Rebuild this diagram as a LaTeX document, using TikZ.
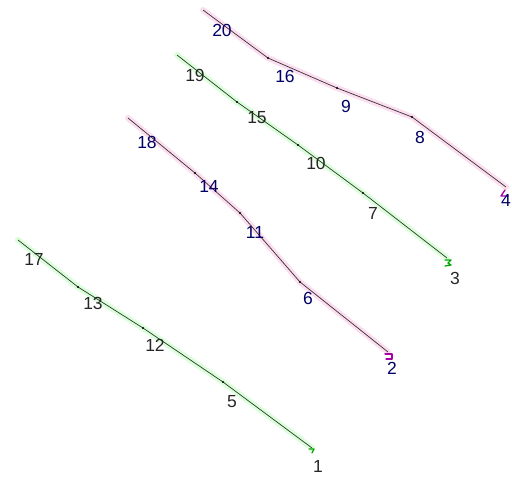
\documentclass[tikz,border=0pt]{standalone}
\usepackage{fontspec}
\setmainfont{Liberation Sans}
\begin{document}
\begin{tikzpicture}[x=1pt,y=-1pt,
  halog/.style={line width=6pt,draw=green!50!white,opacity=0.3,line cap=round,line join=round},
  halom/.style={line width=6pt,draw=magenta!55!white,opacity=0.25,line cap=round,line join=round},
  core/.style={line width=0.7pt,draw=black!80,line join=round},
  dot/.style={circle,fill=black,inner sep=0pt,minimum size=2.2pt},
  lbk/.style={font=\fontsize{17.5}{18}\selectfont,text=black!85,inner sep=0pt},
  lbb/.style={font=\fontsize{17.5}{18}\selectfont,text=blue!40!black,inner sep=0pt},
  endg/.style={draw=green!65!black,line width=1.3pt,line cap=round,line join=round},
  endm/.style={draw=violet!70!magenta,line width=1.3pt,line cap=round,line join=round}]
\useasboundingbox (0,0) rectangle (512,477);
% line A (green)
\coordinate (p17) at (18,240);
\coordinate (p13) at (78,287);
\coordinate (p12) at (143,328);
\coordinate (p5) at (223,382);
\coordinate (p1) at (312,448);
% line B (magenta)
\coordinate (p18) at (128,118);
\coordinate (p14) at (195,173);
\coordinate (p11) at (240,213);
\coordinate (p6) at (300,282);
\coordinate (p2) at (388,352);
% line C (green)
\coordinate (p19) at (177,55);
\coordinate (p15) at (237,102);
\coordinate (p10) at (298,145);
\coordinate (p7) at (363,193);
\coordinate (p3) at (447,258);
% line D (magenta)
\coordinate (p20) at (203,10);
\coordinate (p16) at (268,58);
\coordinate (p9) at (337,88);
\coordinate (p8) at (412,117);
\coordinate (p4) at (506,187);
% halos
\draw[halog] (p17) -- (p13) -- (p12) -- (p5) -- (p1);
\draw[halom] (p18) -- (p14) -- (p11) -- (p6) -- (p2);
\draw[halog] (p19) -- (p15) -- (p10) -- (p7) -- (p3);
\draw[halom] (p20) -- (p16) -- (p9) -- (p8) -- (p4);
% cores
\draw[core] (p17) -- (p13) -- (p12) -- (p5) -- (p1);
\draw[core] (p18) -- (p14) -- (p11) -- (p6) -- (p2);
\draw[core] (p19) -- (p15) -- (p10) -- (p7) -- (p3);
\draw[core] (p20) -- (p16) -- (p9) -- (p8) -- (p4);
% dots
\foreach \p in {p13,p12,p5,p14,p11,p6,p15,p10,p7,p16,p9,p8}
  \node[dot] at (\p) {};
% end marks
\draw[endg] ([xshift=-3pt,yshift=-1pt]p1) -- ++(5,0) -- ++(-2,4);
\draw[endm] ([xshift=-3pt,yshift=-2pt]p2) -- ++(7,0) -- ++(0,5) -- ++(-6,0);
\draw[endg] ([xshift=-2pt,yshift=-2pt]p3) -- ++(6,0) -- ++(-3,3) -- ++(3,2) -- ++(-6,1);
\draw[endm] ([xshift=-1pt,yshift=-3pt]p4) -- ++(-4,6) -- ++(7,0);
% labels
\node[lbk] (l17) at (34,259) {17};
\node[lbk] (l13) at (93,303) {13};
\node[lbk] (l12) at (155,345) {12};
\node[lbk] (l5) at (232,402) {5};
\node[lbk] (l1) at (318,466) {1};
\node[lbb] (l18) at (147,142) {18};
\node[lbb] (l14) at (209,186) {14};
\node[lbb] (l11) at (255,232) {11};
\node[lbb] (l6) at (308,298) {6};
\node[lbb] (l2) at (392,368) {2};
\node[lbk] (l19) at (195,75) {19};
\node[lbk] (l15) at (257,118) {15};
\node[lbk] (l10) at (316,163) {10};
\node[lbk] (l7) at (373,213) {7};
\node[lbk] (l3) at (455,278) {3};
\node[lbb] (l20) at (222,30) {20};
\node[lbb] (l16) at (285,76) {16};
\node[lbb] (l9) at (346,106) {9};
\node[lbb] (l8) at (420,137) {8};
\node[lbb] (l4) at (506,200) {4};
\end{tikzpicture}
\end{document}
